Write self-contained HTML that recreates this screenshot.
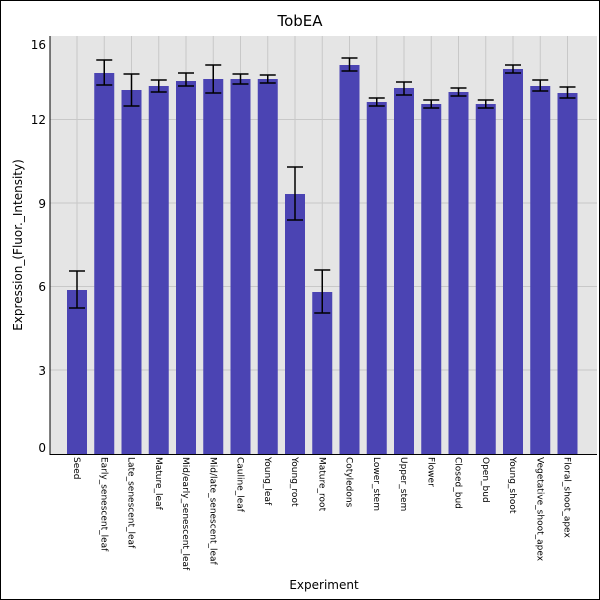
<!DOCTYPE html><html><head><style>body{margin:0}svg{display:block}text{font-family:"DejaVu Sans","Liberation Sans",sans-serif}</style></head><body>
<svg width="600" height="600" xmlns="http://www.w3.org/2000/svg">
<rect x="0.5" y="0.5" width="599" height="599" fill="#fff" stroke="#000"/>
<text x="300" y="26" font-size="15" text-anchor="middle">TobEA</text>
<rect x="50" y="36" width="547" height="418" fill="#e5e5e5"/>
<g stroke="#c8c8c8" stroke-width="1">
<line x1="50" x2="597" y1="119.5" y2="119.5"/><line x1="50" x2="597" y1="203" y2="203"/><line x1="50" x2="597" y1="286.5" y2="286.5"/><line x1="50" x2="597" y1="370" y2="370"/>
</g>
<g id="bars"></g>
<line x1="50" y1="36" x2="50" y2="455" stroke="#000"/>
<line x1="50" y1="454.5" x2="597" y2="454.5" stroke="#000"/>
<g font-size="12" text-anchor="end">
<text x="46" y="49">16</text><text x="46" y="124">12</text><text x="46" y="208">9</text><text x="46" y="291">6</text><text x="46" y="375">3</text><text x="46" y="452">0</text>
</g>
<text transform="translate(22,245) rotate(-90)" font-size="12" text-anchor="middle">Expression_(Fluor._Intensity)</text>
<text x="324" y="589" font-size="12" text-anchor="middle">Experiment</text>
<g id="lab" font-size="9"></g>
</svg>
<script>
var d=[["Seed",290,271,308],["Early_senescent_leaf",73,60,85],["Late_senescent_leaf",90,74,106],["Mature_leaf",86,80,92],["Mid/early_senescent_leaf",81,73,86],["Mid/late_senescent_leaf",79,65,93],["Cauline_leaf",79,74,84],["Young_leaf",79,75,83],["Young_root",194,167,220],["Mature_root",292,270,313],["Cotyledons",65,58,71],["Lower_stem",102,98,106],["Upper_stem",88,82,95],["Flower",104,100,108],["Closed_bud",92,88,96],["Open_bud",104,100,108],["Young_shoot",69,65,73],["Vegetative_shoot_apex",86,80,91],["Floral_shoot_apex",93,87,98]];
var s="",l="",ns="http://www.w3.org/2000/svg";
d.forEach(function(e,i){var c=77+i*27.25;
s+='<line x1="'+c+'" x2="'+c+'" y1="36" y2="454" stroke="#c8c8c8"/>';
s+='<rect x="'+(c-10)+'" y="'+e[1]+'" width="20" height="'+(454-e[1])+'" fill="#4b44b3"/>';
s+='<g stroke="#000" stroke-width="1.5"><line x1="'+c+'" x2="'+c+'" y1="'+e[2]+'" y2="'+e[3]+'"/><line x1="'+(c-8)+'" x2="'+(c+8)+'" y1="'+e[2]+'" y2="'+e[2]+'"/><line x1="'+(c-8)+'" x2="'+(c+8)+'" y1="'+e[3]+'" y2="'+e[3]+'"/></g>';
l+='<text transform="translate('+(c-3)+',457) rotate(90)">'+e[0]+'</text>';});
document.getElementById("bars").innerHTML=s;document.getElementById("lab").innerHTML=l;
</script>
</body></html>
